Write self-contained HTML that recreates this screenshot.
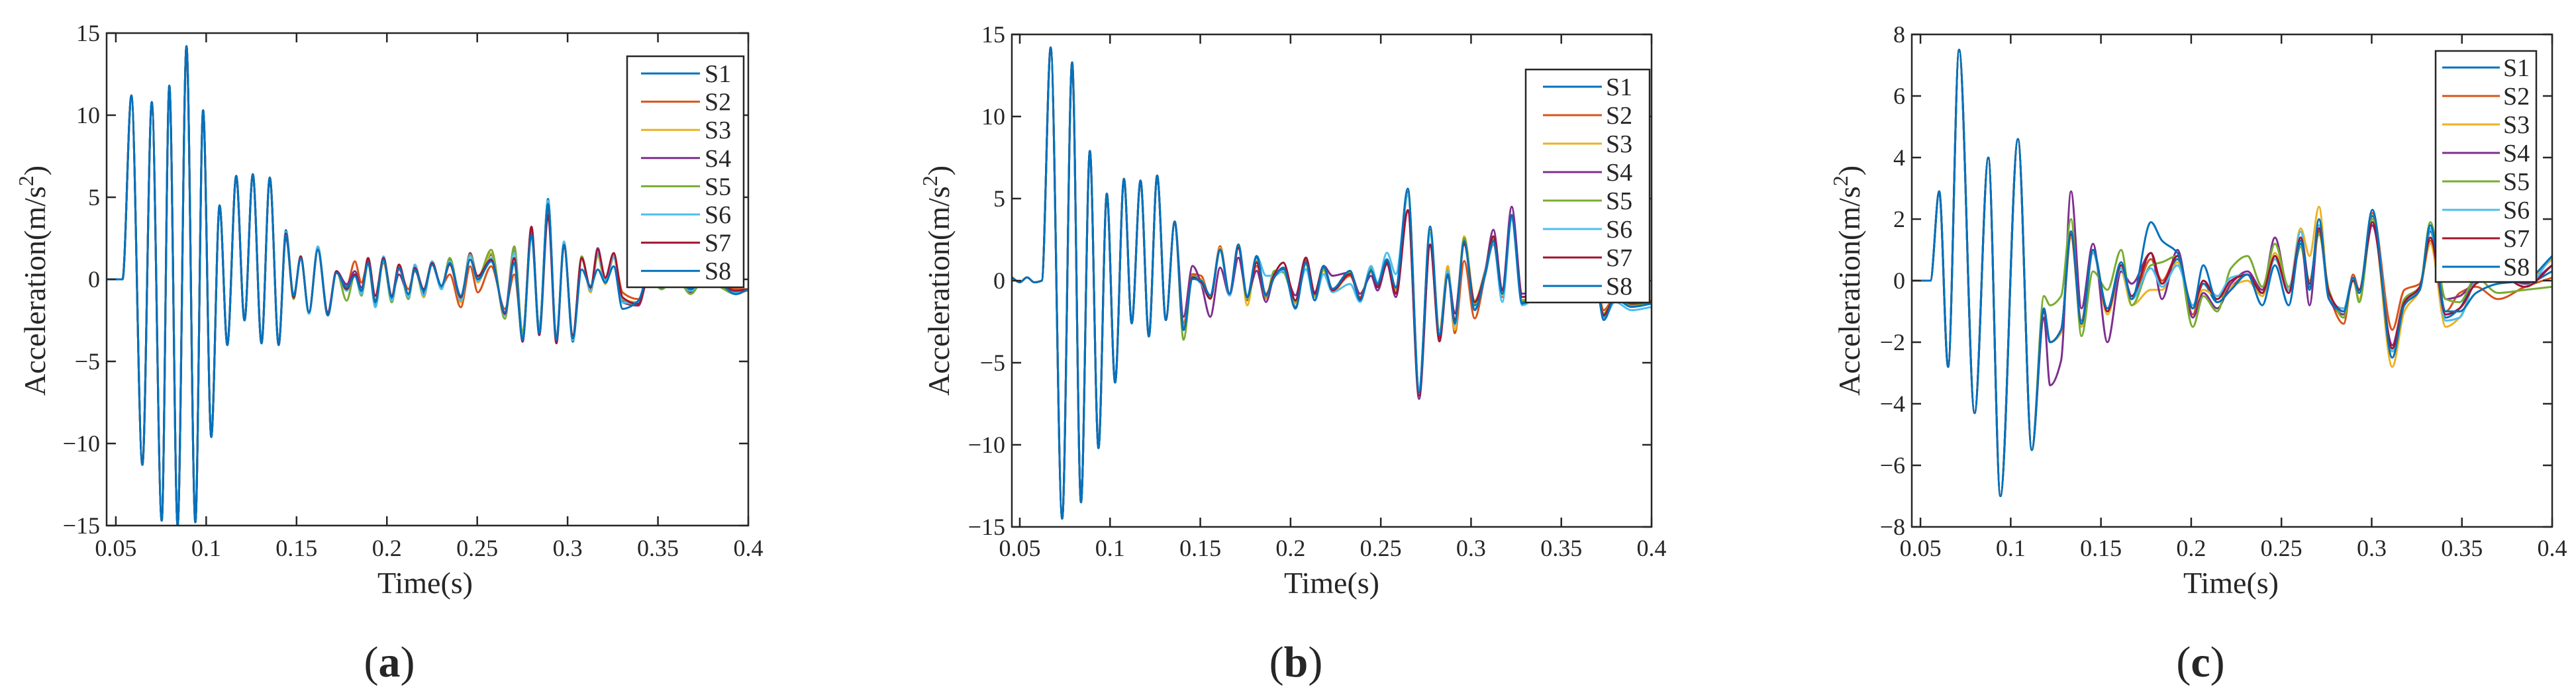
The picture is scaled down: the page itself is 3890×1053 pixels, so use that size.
<!DOCTYPE html>
<html><head><meta charset="utf-8">
<style>
html,body{margin:0;padding:0;background:#fff;}
svg{display:block;}
text{font-family:"Liberation Serif","DejaVu Serif",serif;fill:#262626;}
</style></head>
<body>
<svg id="fig" width="3890" height="1053" viewBox="0 0 3890 1053" xmlns="http://www.w3.org/2000/svg"></svg>
<script>
// ---------- Panel (a) data ----------
const T_A = [0.0449,0.0537,0.0586,0.0647,0.0699,0.0754,0.0796,0.0842,0.0891,0.094,0.0983,0.1028,0.1074,0.1117,0.1166,0.1212,0.1258,0.1306,0.1352,0.1401,0.1441,0.1484,0.1523,0.1569,0.1618,0.1673,0.1721,0.1777,0.1823,0.1859,0.1896,0.1936,0.1981,0.2027,0.2067,0.2119,0.2155,0.2204,0.225,0.2302,0.2348,0.2409,0.2461,0.2503,0.2577,0.2653,0.2705,0.2751,0.28,0.2843,0.2892,0.2938,0.298,0.3029,0.3078,0.3127,0.3167,0.3209,0.3255,0.3304,0.3392,0.345,0.352,0.36,0.368,0.376,0.385,0.393,0.4];
const A_EARLY = [0,0,11.2,-11.3,10.8,-14.7,11.8,-15,14.2,-14.8,10.3,-9.6,4.5,-4.0,6.3,-2.5,6.4,-3.9,6.2,-4.0];
const A_S1 = [3.0,-1.1,1.4,-2.1,2.0,-2.2,0.5,-0.6,0.3,-0.8,1.2,-1.6,1.3,-1.2,0.8,-1.0,0.8,-0.9,1.0,-0.5,1.2,-1.3,1.5,0.0,1.5,-2.2,1.8,-3.6,3.0,-3.2,4.9,-3.8,2.3,-3.8,1.3,-0.6,1.6,0.0,1.5,-1.3,-1.5,0.3,-0.5,0.2,-0.7,0.1,-0.3,-0.9,-0.6];
const A_S2 = [2.8,-1.0,1.3,-2.0,1.8,-2.0,0.4,-0.4,1.1,-0.2,1.0,-1.0,1.0,-1.1,0.6,-0.6,0.5,-0.6,0.9,-0.4,0.3,-1.7,0.8,-0.8,0.8,-1.8,0.3,-3.4,2.8,-3.0,4.2,-3.6,2.0,-3.5,1.2,-0.5,1.4,0.1,1.4,-0.8,-1.2,0.2,-0.4,0.2,-0.5,0.1,-0.4,-0.6,-0.6];
const A_S3 = [2.7,-1.2,1.4,-2.0,1.9,-2.1,0.5,-0.7,0.3,-0.9,1.0,-1.2,1.1,-1.4,0.9,-1.2,0.7,-1.1,1.1,-0.6,1.3,-1.4,1.6,-0.2,1.6,-2.4,1.9,-3.5,2.9,-3.1,4.6,-3.7,2.2,-3.7,1.3,-0.8,1.4,-0.3,1.3,-1.2,-1.4,0.2,-0.5,0.2,-0.7,0.0,-0.4,-0.8,-0.7];
const A_S4 = [2.6,-1.1,1.3,-2.0,1.9,-2.0,0.5,-0.3,0.5,-0.5,0.9,-1.3,1.2,-1.0,0.3,-0.9,0.6,-0.8,0.9,-0.5,1.1,-1.3,1.6,0.1,1.2,-2.0,2.0,-3.5,3.2,-3.0,4.5,-3.7,2.2,-3.6,1.3,-0.7,1.9,-0.2,1.4,-1.4,-1.6,0.2,-0.6,0.3,-0.8,0.2,-0.3,-0.9,-0.6];
const A_S5 = [2.8,-1.2,1.4,-2.1,2.0,-2.2,0.5,-1.3,0.3,-1.0,1.0,-1.7,1.2,-1.4,0.8,-1.2,0.9,-1.0,1.1,-0.6,1.3,-1.2,1.5,0.1,1.8,-2.4,2.0,-3.3,3.0,-3.0,4.8,-3.7,2.2,-3.5,1.4,-0.7,1.5,-0.1,1.5,-1.4,-1.5,0.3,-0.6,0.2,-0.9,0.1,-0.5,-0.9,-0.6];
const A_S6 = [2.9,-1.1,1.4,-2.1,2.0,-2.1,0.5,-0.7,0.3,-0.9,1.3,-1.7,1.4,-1.3,0.9,-1.1,0.9,-1.0,1.1,-0.6,1.1,-1.3,1.4,-0.1,1.3,-2.2,1.6,-3.6,3.0,-3.1,4.8,-3.7,2.3,-3.7,1.3,-0.7,1.6,-0.1,1.4,-1.4,-1.4,0.3,-0.5,0.2,-0.7,0.1,-0.3,-0.8,-0.6];
const A_S7 = [2.8,-1.1,1.4,-2.0,1.8,-2.1,0.5,-0.6,0.3,-0.7,1.3,-1.0,1.3,-1.0,0.9,-0.9,0.7,-0.6,1.0,-0.4,0.9,-1.1,1.2,0.2,1.2,-2.1,1.3,-3.8,3.2,-3.4,3.9,-3.9,2.1,-3.4,1.3,-0.5,1.8,0.1,1.6,-1.1,-1.5,0.3,-0.5,0.2,-0.6,0.1,-0.3,-0.7,-0.6];
const A_S8 = [2.7,-1.0,1.3,-2.0,1.8,-2.2,0.4,-0.5,0.2,-0.7,1.0,-1.4,1.2,-1.1,0.7,-0.9,0.6,-0.7,0.9,-0.4,1.0,-1.0,1.2,0.0,1.1,-2.0,1.0,-3.7,2.7,-3.3,4.6,-3.7,2.1,-3.6,0.6,-0.4,0.6,-0.2,0.8,-1.8,-1.3,0.4,-0.5,0.3,-0.6,0.2,-0.3,-0.9,-0.6];

// ---------- Panel (b) data ----------
const T_B = [0.0456,0.05,0.054,0.058,0.0622,0.0671,0.0735,0.079,0.0839,0.0888,0.0936,0.0982,0.1028,0.1077,0.112,0.1169,0.1215,0.1261,0.1309,0.1358,0.1407,0.1457,0.1505,0.1555,0.161,0.1662,0.1711,0.176,0.1812,0.1864,0.191,0.196,0.2027,0.2085,0.2134,0.2183,0.2232,0.233,0.2385,0.2446,0.2482,0.2534,0.2583,0.265,0.2712,0.2773,0.2825,0.2871,0.291,0.2962,0.302,0.3078,0.3124,0.3173,0.3225,0.3283,0.34,0.355,0.369,0.3735,0.3797,0.389,0.4];
const B_EARLY = [0.2,-0.1,0.2,-0.1,0,14.2,-14.5,13.3,-13.5,7.9,-10.2,5.3,-6.2,6.2,-2.6,6.1,-3.4,6.4,-2.4,3.6];
const B_S1 = [-3.0,0.3,0.0,-1.0,2.0,-0.8,2.2,-1.0,1.4,-0.9,0.2,0.8,-1.6,1.2,-1.0,0.8,-0.5,0.5,-1.2,0.7,-0.3,1.2,-0.5,5.4,-6.8,3.1,-3.4,0.5,-2.7,2.5,-1.5,0.5,2.5,-0.8,4.0,-1.3,-0.5,-0.8,0.0,-2.2,-1.0,-1.5,-1.3];
const B_S2 = [-2.6,0.4,0.3,-1.1,2.1,-0.9,2.0,-1.2,0.9,-0.8,0.3,0.7,-1.3,1.3,-0.8,0.9,-0.6,0.3,-1.0,0.6,-0.4,1.0,-0.7,5.6,-6.5,2.8,-3.6,0.8,-3.2,1.2,-2.3,0.3,2.2,-1.0,3.8,-1.2,-0.6,-0.8,0.0,-1.8,-1.0,-1.3,-1.2];
const B_S3 = [-2.8,0.2,0.1,-1.1,2.0,-0.9,2.2,-1.5,1.2,-1.1,0.2,0.7,-1.4,1.1,-1.0,0.6,-0.7,0.4,-1.1,0.5,-0.2,1.0,-0.4,5.3,-6.6,3.0,-3.0,0.9,-3.0,2.7,-1.2,0.6,2.4,-0.9,3.9,-1.2,-0.5,-0.8,0.0,-2.0,-1.1,-1.4,-1.2];
const B_S4 = [-2.2,0.9,-0.2,-2.2,0.8,-0.9,1.4,-0.9,0.6,-1.3,0.3,0.7,-0.9,1.4,-0.7,0.9,0.3,0.5,-0.8,0.3,-0.6,1.0,-1.0,4.2,-7.2,2.1,-3.5,0.5,-2.0,2.3,-1.3,0.6,3.1,-0.5,4.5,-0.8,-0.4,-0.8,0.0,-2.1,-1.0,-1.4,-1.3];
const B_S5 = [-3.6,0.3,-0.2,-1.0,1.8,-0.8,2.1,-1.1,1.2,-1.0,0.6,0.5,-1.3,1.0,-0.9,0.7,-0.6,0.5,-1.1,0.8,-0.2,1.1,-0.5,5.2,-6.6,2.9,-3.3,0.6,-2.6,2.6,-1.4,0.5,2.6,-0.8,3.8,-1.2,-0.5,-0.9,0.0,-2.0,-1.0,-1.5,-1.3];
const B_S6 = [-2.9,0.2,-0.2,-1.1,1.8,-0.9,2.0,-0.9,1.5,0.3,0.3,0.6,-1.2,0.7,-1.2,0.4,-0.7,-0.2,-1.3,0.9,-0.1,1.7,0.4,5.2,-6.5,2.8,-3.2,0.6,-2.7,2.4,-1.7,0.3,2.3,-1.3,3.7,-1.5,-0.7,-1.2,-0.2,-2.3,-1.3,-1.8,-1.6];
const B_S7 = [-3.0,0.2,-0.1,-1.1,1.9,-0.8,2.0,-1.0,1.1,-0.9,0.4,1.1,-1.2,1.4,-0.8,0.9,-0.6,0.4,-1.1,0.6,-0.4,1.1,-0.8,4.3,-7.0,2.2,-3.7,0.3,-2.4,2.2,-1.3,0.4,2.7,-0.6,3.9,-1.0,-0.5,-0.8,0.0,-2.1,-1.0,-1.4,-1.3];
const B_S8 = [-3.0,0.1,0.0,-0.9,1.9,-0.8,2.2,-1.0,1.5,-0.9,0.2,0.8,-1.7,1.1,-1.2,0.9,-0.5,0.6,-1.2,0.6,-0.2,1.3,-0.4,5.6,-6.8,3.3,-3.3,0.4,-2.6,2.4,-1.8,0.4,2.4,-0.8,3.9,-1.4,-0.5,-0.8,0.0,-2.4,-1.1,-1.6,-1.4];

// ---------- Panel (c) data ----------
const T_C = [0.0452,0.0555,0.0604,0.0653,0.0714,0.08,0.0876,0.0943,0.104,0.1117,0.1184,0.1218,0.1279,0.1334,0.1392,0.1456,0.1536,0.1612,0.167,0.1777,0.1838,0.1924,0.2009,0.2067,0.2144,0.222,0.2312,0.2394,0.2464,0.254,0.2607,0.2656,0.2708,0.2763,0.2845,0.2897,0.2931,0.3004,0.3114,0.3181,0.3267,0.3325,0.341,0.3487,0.3578,0.37,0.385,0.4];
const C_EARLY = [0,0,2.9,-2.8,7.5,-4.3,4.0,-7.0,4.6,-5.5];
const C_S1 = [-1.0,-2.0,-1.6,1.6,-1.4,1.0,-1.0,0.5,-0.6,0.7,-0.1,0.7,-0.9,-0.1,-0.7,-0.3,0.2,-0.5,0.8,-0.4,1.2,-0.2,1.6,-0.5,-1.0,0.1,-0.4,2.1,-2.2,-0.6,-0.2,1.6,-1.2,-0.9,0.0,0.2,-0.1,0.3];
const C_S2 = [-1.0,-2.0,-1.6,1.5,-1.3,1.0,-1.0,0.5,-0.6,0.7,0.0,0.8,-1.1,0.0,-0.5,-0.2,0.2,-0.3,0.7,-0.3,1.1,-0.3,1.6,-0.4,-1.4,0.2,-0.3,2.2,-1.6,-0.3,-0.1,1.3,-1.0,-0.4,-0.2,-0.6,-0.2,0.1];
const C_S3 = [-1.0,-2.0,-1.7,1.4,-1.5,0.9,-1.1,0.3,-0.8,-0.3,-0.3,0.6,-0.8,-0.3,-0.5,-0.2,0.0,-0.5,0.9,-0.3,1.7,0.8,2.4,-0.5,-1.1,0.0,-0.6,2.0,-2.8,-1.0,-0.3,1.2,-1.5,-1.2,0.0,0.3,0.0,0.7];
const C_S4 = [-1.2,-3.4,-2.6,2.9,-0.9,1.2,-2.0,0.3,-0.1,0.9,-0.6,1.0,-1.2,-0.4,-0.9,-0.1,0.3,-0.3,1.4,-0.3,1.4,-0.8,1.7,-0.6,-1.1,0.1,-0.4,1.8,-2.1,-0.6,-0.2,1.7,-0.6,-0.5,0.0,0.2,-0.1,0.5];
const C_S5 = [-0.5,-0.8,-0.5,2.0,-1.8,0.3,-0.3,1.0,-0.8,0.5,0.6,0.8,-1.5,-0.5,-1.0,0.4,0.8,-0.2,1.2,-0.2,1.1,0.0,1.5,-0.3,-1.2,0.1,-0.7,2.0,-2.3,-0.6,-0.2,1.9,-0.6,-0.7,0.1,-0.4,-0.3,-0.2];
const C_S6 = [-1.0,-2.0,-1.6,1.6,-1.4,0.9,-1.0,0.4,-0.6,0.4,-0.2,0.5,-0.8,0.0,-0.5,0.1,0.2,-0.4,0.7,-0.3,1.6,-0.1,1.8,-0.6,-0.9,0.1,-0.4,2.3,-2.3,-0.7,-0.3,1.7,-1.3,-1.2,0.0,0.2,-0.2,0.8];
const C_S7 = [-1.0,-2.0,-1.6,1.5,-1.4,1.0,-1.0,0.5,-0.5,0.9,-0.1,0.8,-0.9,0.0,-0.6,0.0,0.2,-0.4,0.8,-0.4,1.4,-0.1,1.7,-0.4,-1.0,0.0,-0.3,1.9,-2.2,-0.7,-0.2,1.4,-1.1,-0.9,-0.1,0.2,-0.2,0.5];
const C_S8 = [-0.9,-2.0,-1.6,1.6,-1.4,1.0,-0.9,0.6,-0.6,1.9,1.3,0.9,-0.9,0.5,-0.7,-0.3,0.2,-0.8,0.5,-0.8,1.3,-0.3,2.0,-0.6,-1.0,0.1,-0.4,2.3,-2.5,-0.8,-0.3,1.8,-1.0,-1.0,-0.4,-0.1,0.0,0.8];

const SERIES_NAMES = ["S1","S2","S3","S4","S5","S6","S7","S8"];
const SERIES_COLORS = ["#0072BD","#D95319","#EDB120","#7E2F8E","#77AC30","#4DBEEE","#A2142F","#0072BD"];
const X_TICKS = [0.05,0.1,0.15,0.2,0.25,0.3,0.35,0.4];
const X_TICK_LABELS = ["0.05","0.1","0.15","0.2","0.25","0.3","0.35","0.4"];
const Y_TICKS_AB = [15,10,5,0,-5,-10,-15];
const Y_TICKS_C = [8,6,4,2,0,-2,-4,-6,-8];

const NS = "http://www.w3.org/2000/svg";
const svg = document.getElementById("fig");
function mk(tag, attrs, parent){
  const e = document.createElementNS(NS, tag);
  for (const k in attrs) e.setAttribute(k, attrs[k]);
  (parent||svg).appendChild(e);
  return e;
}
function fmt(v){ return v < 0 ? "\u2212" + Math.abs(v) : String(v); }

// monotone cubic (Fritsch-Carlson) path
function monoPath(px, py){
  const n = px.length, d = [], m = [];
  for (let i=0;i<n-1;i++) d.push((py[i+1]-py[i])/(px[i+1]-px[i]));
  m[0]=d[0]; m[n-1]=d[n-2];
  for (let i=1;i<n-1;i++){
    if (d[i-1]*d[i] <= 0) m[i]=0;
    else { const w1=2*(px[i+1]-px[i])+(px[i]-px[i-1]), w2=(px[i+1]-px[i])+2*(px[i]-px[i-1]);
      m[i]=(w1+w2)/(w1/d[i-1]+w2/d[i]); }
  }
  let s = "M"+px[0].toFixed(1)+","+py[0].toFixed(1);
  for (let i=0;i<n-1;i++){
    const h = px[i+1]-px[i];
    s += "C"+(px[i]+h/3).toFixed(1)+","+(py[i]+m[i]*h/3).toFixed(1)+" "+(px[i+1]-h/3).toFixed(1)+","+(py[i+1]-m[i+1]*h/3).toFixed(1)+" "+px[i+1].toFixed(1)+","+py[i+1].toFixed(1);
  }
  return s;
}

function panel(cfg){
  const g = mk("g", {});
  
  
  const L=cfg.left, R=cfg.right, T=cfg.top, B=cfg.bottom;
  const xs = t => L + (t - cfg.xmin)/(0.4 - cfg.xmin)*(R-L);
  const ys = v => B - (v - cfg.ymin)/(cfg.ymax - cfg.ymin)*(B-T);
  const cid = "clip-"+cfg.key;
  const defs = mk("defs", {}, g);
  const cp = mk("clipPath", {id:cid}, defs);
  mk("rect", {x:L, y:T, width:R-L, height:B-T}, cp);

  // series
  const sg = mk("g", {"clip-path":"url(#"+cid+")"}, g);
  
  
  cfg.series.forEach((vals, i) => {
    const full = cfg.early.concat(vals);
    const px = cfg.times.map(xs), py = full.map(ys);
    const p = mk("path", {d:monoPath(px,py), fill:"none", stroke:SERIES_COLORS[i], "stroke-width":3, "stroke-linejoin":"round"}, sg);
    
    
  });

  // axes box
  const box = mk("rect", {x:L, y:T, width:R-L, height:B-T, fill:"none", stroke:"#262626", "stroke-width":2.5}, g);
  
  

  // x ticks
  X_TICKS.forEach((t,i) => {
    const x = xs(t);
    mk("line", {x1:x, x2:x, y1:B, y2:B-14, stroke:"#262626", "stroke-width":2.5}, g);
    mk("line", {x1:x, x2:x, y1:T, y2:T+14, stroke:"#262626", "stroke-width":2.5}, g);
    const tx = mk("text", {x:x, y:840, "font-size":36, "text-anchor":"middle"}, g);
    tx.textContent = X_TICK_LABELS[i];
    
    
  });
  // y ticks
  cfg.yticks.forEach(v => {
    const y = ys(v);
    mk("line", {x1:L, x2:L+14, y1:y, y2:y, stroke:"#262626", "stroke-width":2.5}, g);
    mk("line", {x1:R, x2:R-14, y1:y, y2:y, stroke:"#262626", "stroke-width":2.5}, g);
    const ty = mk("text", {x:L-10, y:y+12, "font-size":36, "text-anchor":"end"}, g);
    ty.textContent = fmt(v);
    
    
  });

  // axis titles
  const xt = mk("text", {x:cfg.xtitleX, y:896, "font-size":46, "text-anchor":"middle"}, g);
  xt.textContent = "Time(s)";
  
  
  const yt = mk("text", {x:0, y:0, "font-size":46, "text-anchor":"middle", transform:"translate("+(cfg.ytitleX+16)+",424) rotate(-90)"}, g);
  
  
  yt.appendChild(document.createTextNode("Acceleration(m/s"));
  const sup = mk("tspan", {dy:-18, "font-size":32}, yt); sup.textContent = "2";
  const cl = mk("tspan", {dy:18}, yt); cl.textContent = ")";

  // panel label
  const pl = mk("text", {x:cfg.labelX, y:1022, "font-size":66, "text-anchor":"middle", fill:"#000"}, g);
  
  
  pl.appendChild(document.createTextNode("("));
  const pb = mk("tspan", {"font-weight":"bold"}, pl); pb.textContent = cfg.letter;
  const pc = mk("tspan", {}, pl); pc.textContent = ")";

  // legend
  const lg = mk("g", {}, g);
  
  
  const lb = cfg.legend;
  mk("rect", {x:lb.x1, y:lb.y1, width:lb.x2-lb.x1, height:lb.y2-lb.y1, fill:"#fff", stroke:"#262626", "stroke-width":2.5}, lg);
  SERIES_NAMES.forEach((nm,i) => {
    const y = lb.row0 + i*lb.dy;
    const e = mk("g", {}, lg);
    
    
    mk("line", {x1:lb.lx1, x2:lb.lx2, y1:y, y2:y, stroke:SERIES_COLORS[i], "stroke-width":3}, e);
    const t = mk("text", {x:lb.tx, y:y+13, "font-size":38}, e);
    t.textContent = nm;
  });
}

panel({key:"a", name:"panel-a", letter:"a", left:161, right:1130, top:50, bottom:794, xmin:0.0449, ymin:-15, ymax:15,
  yticks:Y_TICKS_AB, times:T_A, early:A_EARLY, series:[A_S1,A_S2,A_S3,A_S4,A_S5,A_S6,A_S7,A_S8],
  xtitleX:642, ytitleX:52, labelX:588,
  legend:{x1:947,x2:1123,y1:85,y2:434,row0:111,dy:42.6,lx1:968,lx2:1057,tx:1064}});
panel({key:"b", name:"panel-b", letter:"b", left:1528, right:2494, top:52, bottom:796, xmin:0.0456, ymin:-15, ymax:15,
  yticks:Y_TICKS_AB, times:T_B, early:B_EARLY, series:[B_S1,B_S2,B_S3,B_S4,B_S5,B_S6,B_S7,B_S8],
  xtitleX:2011, ytitleX:1417, labelX:1957,
  legend:{x1:2304,x2:2491,y1:105,y2:457,row0:131,dy:43,lx1:2330,lx2:2419,tx:2425}});
panel({key:"c", name:"panel-c", letter:"c", left:2887, right:3854, top:52, bottom:796, xmin:0.0452, ymin:-8, ymax:8,
  yticks:Y_TICKS_C, times:T_C, early:C_EARLY, series:[C_S1,C_S2,C_S3,C_S4,C_S5,C_S6,C_S7,C_S8],
  xtitleX:3369, ytitleX:2792, labelX:3323,
  legend:{x1:3678,x2:3830,y1:77,y2:426,row0:102,dy:43,lx1:3688,lx2:3775,tx:3780}});
</script>
</body></html>
